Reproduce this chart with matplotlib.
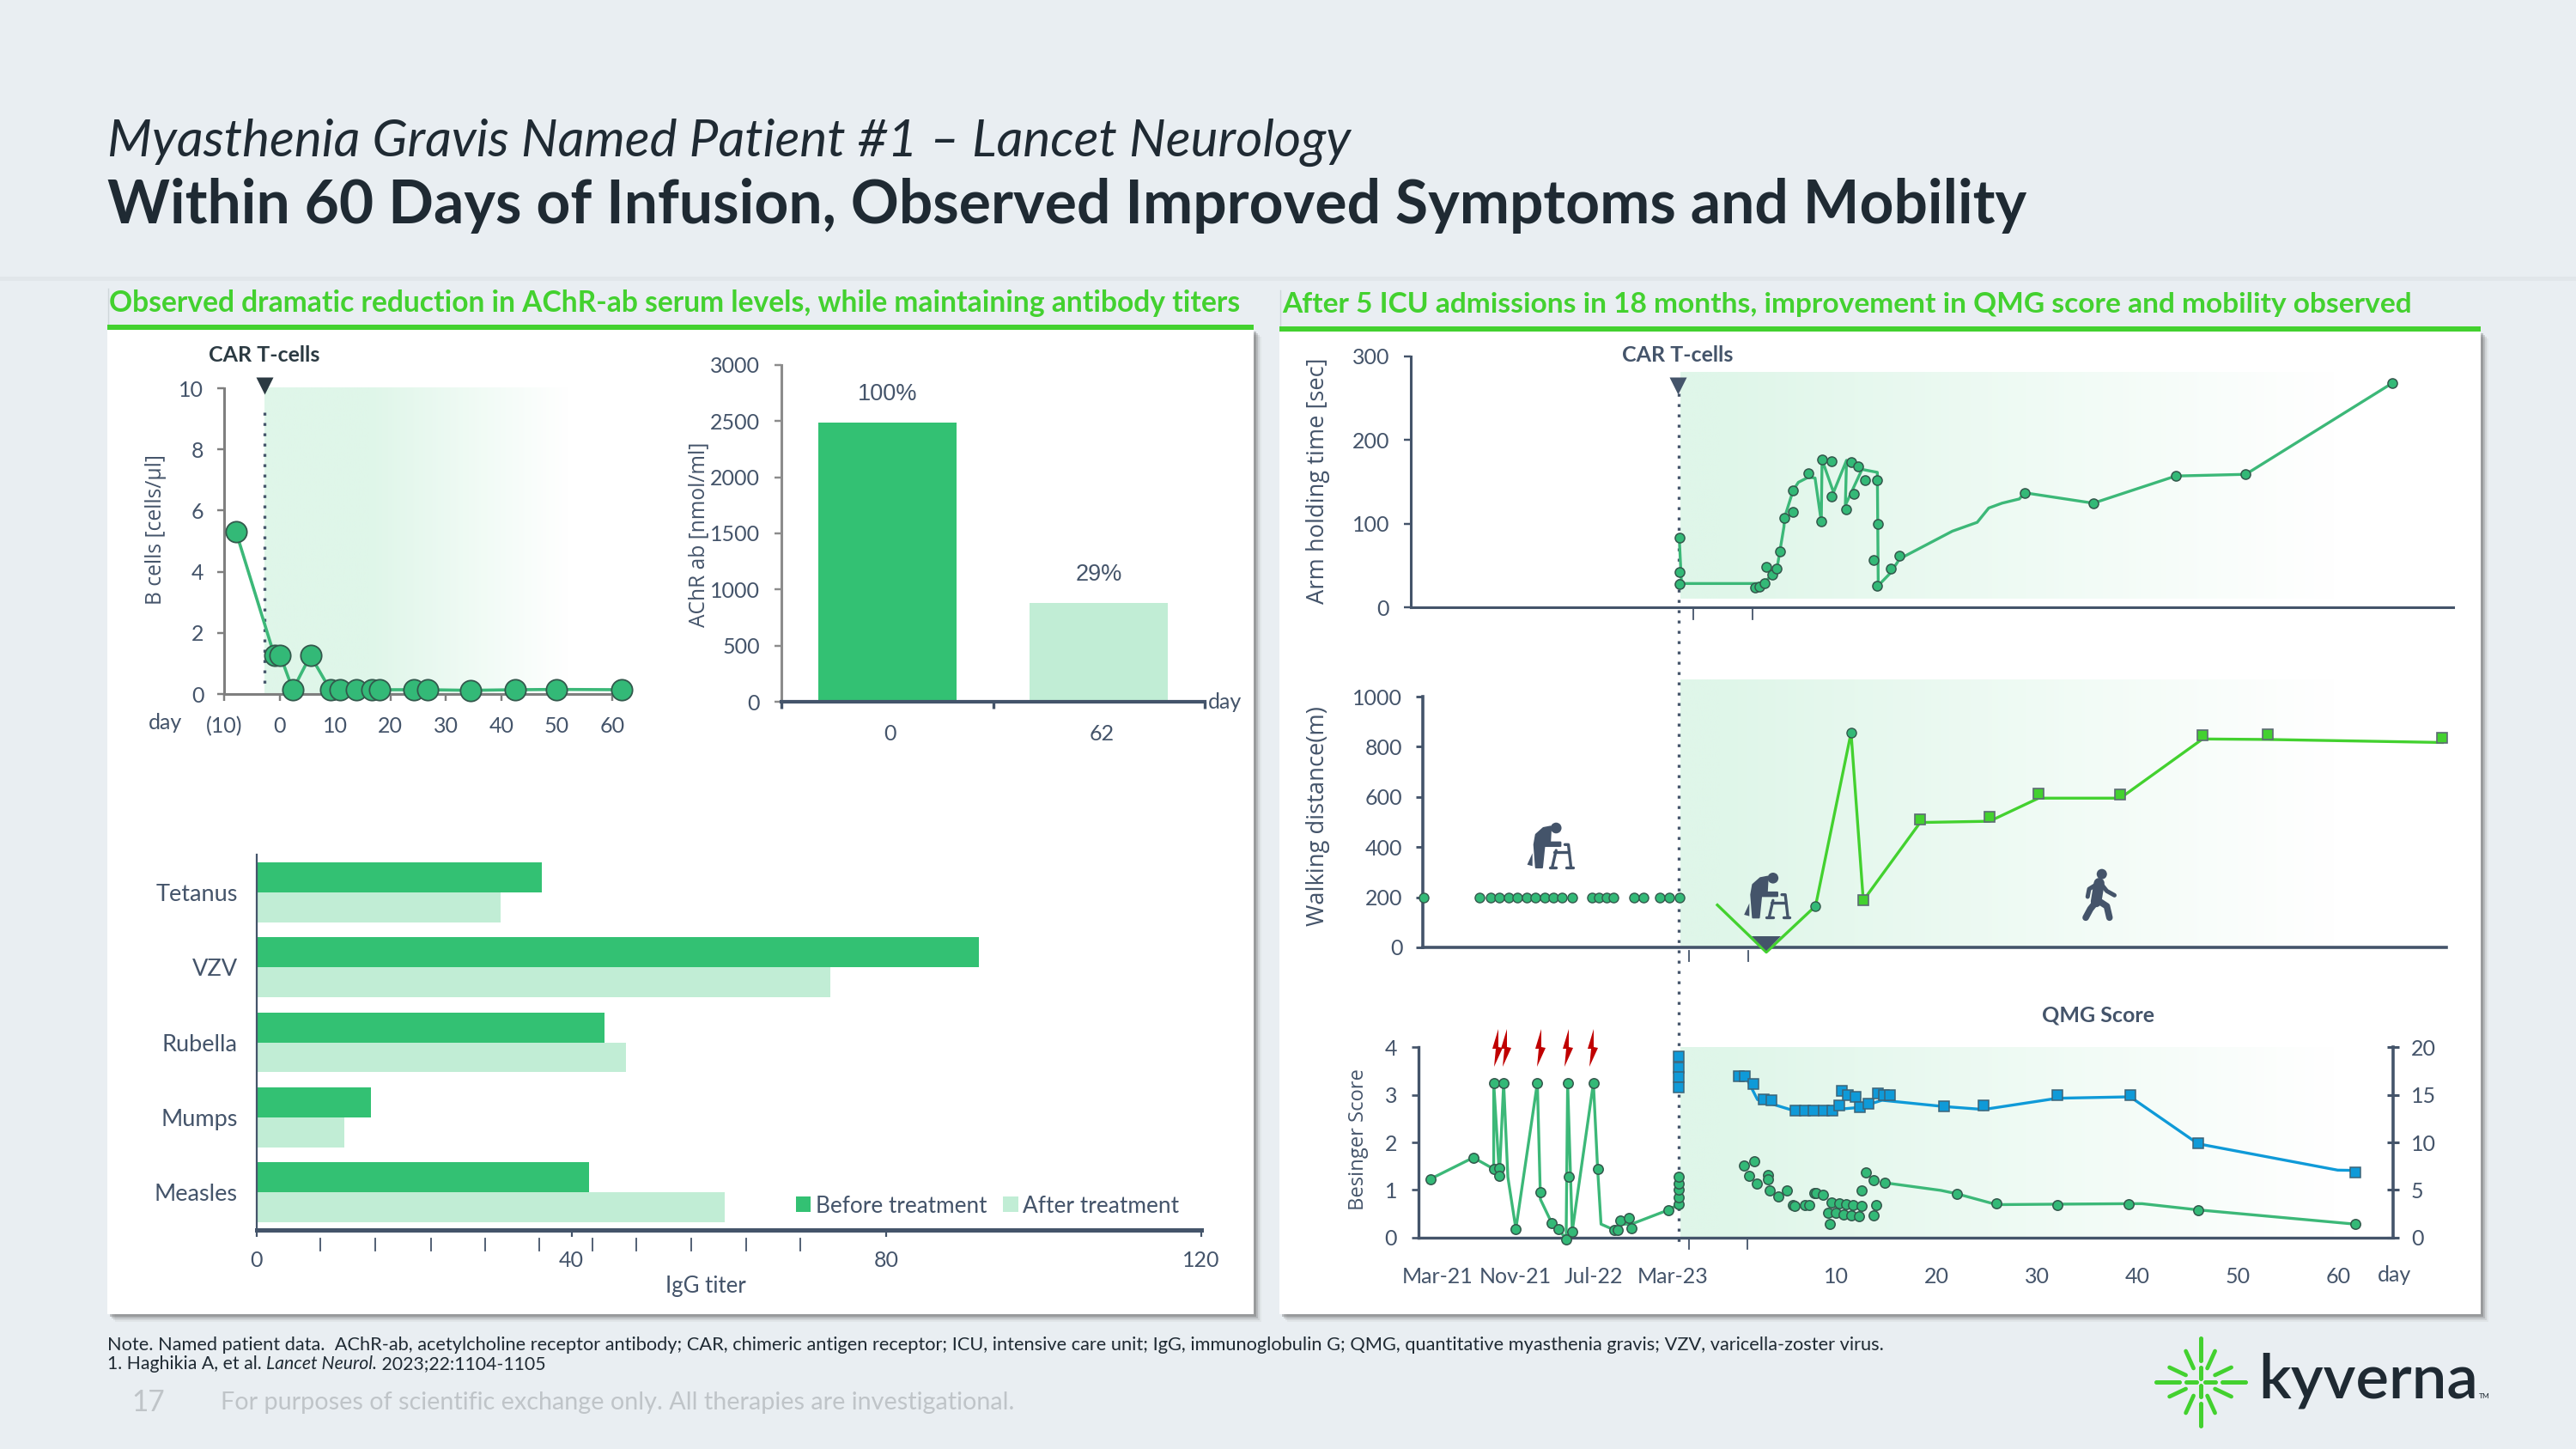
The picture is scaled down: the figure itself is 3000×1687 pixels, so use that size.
import numpy as np
import matplotlib
matplotlib.use('Agg')
import matplotlib.pyplot as plt
from matplotlib.colors import LinearSegmentedColormap
from matplotlib.patches import Rectangle, Polygon, Circle
from matplotlib.transforms import blended_transform_factory

W, H = 3000, 1687
BG = '#e9eef2'
DARK = '#44546a'
INK = '#1f2a33'
BRIGHT = '#43d12f'
BAR = '#33c173'
BAR_LT = '#c1edd5'
MARK = '#33b977'
LINE = '#3cb878'
EDGE = '#33584c'
BLUE = '#0f9ad8'
SHADE = '#dff6e9'
RED = '#c00000'

plt.rcParams['font.family'] = 'Lato'

# B cells
b_day = [-7.85, -0.94, 0.13, 2.4, 5.57, 9.13, 10.9, 13.8, 16.6, 18, 24.2, 26.7, 34.4, 42.5, 50, 61.7]
b_val = [5.3, 1.26, 1.26, 0.14, 1.26, 0.14, 0.14, 0.14, 0.14, 0.14, 0.14, 0.14, 0.12, 0.14, 0.15, 0.14]
b_ticks = [-10, 0, 10, 20, 30, 40, 50, 60]
b_ticklabels = ['(10)', '0', '10', '20', '30', '40', '50', '60']

# AChR ab
achr_days = ['0', '62']
achr_val = [2487, 880]
achr_pct = ['100%', '29%']

# IgG titers
igg_names = ['Tetanus', 'VZV', 'Rubella', 'Mumps', 'Measles']
igg_before = [36.2, 91.7, 44.2, 14.5, 42.2]
igg_after = [31.0, 72.9, 46.9, 11.1, 59.5]
igg_minor = [8.05, 15.1, 22.1, 29.0, 35.9, 42.7, 48.2, 55.2, 62.2, 69.1]

# arm holding time
arm_line_day = [-5.68, -5.46, 1.88, 2.8, 4.06, 4.76, 4.81, 5.68, 6.2, 7.2, 7.86, 8.48, 8.56, 9.7, 11.0,
                10.88, 12.54, 14.07, 14.16, 15.38, 16.3, 21.55, 24.03, 25.18, 26.5, 28.24, 28.73,
                35.6, 43.83, 50.8, 65.4]
arm_line_val = [82.8, 28.4, 28.4, 29, 46, 96.4, 107, 140, 149.5, 155.6, 154.6, 102.6, 176.5, 137.5, 175.8,
                122, 164.9, 161.4, 26, 41, 58, 91, 101.6, 118.7, 124.5, 129.6, 137,
                124.5, 157, 159, 268]
arm_day = [-5.68, -5.68, -5.68, 1.88, 2.27, 2.8, 3.0, 3.6, 4.06, 4.33, 4.76, 5.64, 5.68, 7.2, 8.48, 8.56,
           9.48, 9.48, 11.0, 11.49, 11.75, 12.15, 12.85, 14.07, 14.16, 13.68, 14.03, 15.38, 16.3,
           28.73, 35.6, 43.83, 50.8, 65.4]
arm_val = [82.8, 42, 27.4, 24, 25, 29, 48, 39, 46, 67, 107, 114, 140, 160, 103, 176.5,
           174.5, 133, 117, 174, 135.5, 168, 152, 152, 100, 57, 26, 46, 62,
           137, 124.5, 157, 159, 268]

# walking distance
walk_pre_day = [-31.19, -25.6, -24.5, -23.63, -22.7, -21.84, -20.92, -20.0, -19.13, -18.2, -17.34, -16.38,
                -14.37, -13.67, -12.97, -12.23, -10.18, -9.22, -7.6, -6.64, -5.63]
walk_pre_val = [199] * 21
walk_line_day = [-1.88, 3.0, 7.91, 11.45, 12.67, 18.34, 25.26, 30.15, 38.29, 46.5, 53.0, 70.4]
walk_line_val = [169, -19, 165, 856, 187, 498, 503, 595, 595, 831, 829, 817]
walk_circ_day = [7.91, 11.45]
walk_circ_val = [165, 856]
walk_sq_day = [12.67, 18.34, 25.26, 30.15, 38.29, 46.5, 53.0, 70.4]
walk_sq_val = [187, 510, 519, 614, 611, 847, 849, 834]

# Besinger score
bes_line_day = [-30.49, -26.21, -24.18, -24.18, -23.61, -23.19, -22.77, -21.97, -19.83, -19.52, -18.41,
                -17.72, -16.96, -16.81, -16.35, -14.24, -13.82, -13.48, -12.18, -11.84, -11.57, -10.46,
                -6.75, -5.72]
bes_line_val = [1.23, 1.68, 1.44, 3.25, 1.3, 3.25, 1.27, 0.18, 3.25, 0.8, 0.31,
                0.18, -0.04, 3.25, 0.13, 3.25, 1.44, 0.28, 0.16, 0.16, 0.28, 0.28,
                0.58, 0.7]
bes_day = [-30.49, -26.21, -24.18, -24.18, -23.65, -23.61, -23.19, -21.97, -19.83, -19.52, -18.41, -17.72,
           -16.96, -16.81, -16.73, -16.35, -14.24, -13.82, -12.18, -11.84, -11.57, -10.73, -10.46, -6.75,
           -5.72, -5.72, -5.72, -5.72, -5.72,
           0.78, 1.81, 1.27, 2.04, 3.15, 3.19, 3.34, 4.22, 5.06, 5.63, 5.86, 6.82, 7.31, 7.77, 7.96, 8.65,
           9.49, 10.26, 10.98, 11.67, 12.48, 13.93, 9.19, 9.95, 10.72, 11.44, 12.25, 13.74, 9.3, 12.51,
           12.97, 13.7, 14.81, 21.97, 25.98, 32.0, 39.1, 46.05, 61.7]
bes_val = [1.23, 1.68, 3.25, 1.44, 1.45, 1.3, 3.25, 0.18, 3.25, 0.96, 0.31, 0.18,
           -0.04, 3.25, 1.28, 0.13, 3.25, 1.44, 0.16, 0.16, 0.35, 0.41, 0.19, 0.58,
           0.7, 0.85, 1.0, 1.13, 1.27,
           1.52, 1.61, 1.3, 1.13, 1.32, 1.23, 0.99, 0.86, 0.98, 0.68, 0.66, 0.69, 0.69, 0.94, 0.94, 0.89,
           0.73, 0.72, 0.7, 0.69, 0.66, 0.69, 0.52, 0.51, 0.48, 0.46, 0.45, 0.47, 0.28, 0.98,
           1.36, 1.2, 1.15, 0.92, 0.71, 0.68, 0.7, 0.57, 0.29]
bes_tail_day = [14.81, 20.4, 21.97, 25.98, 32.0, 39.1, 40.47, 46.05, 61.7]
bes_tail_val = [1.15, 0.99, 0.92, 0.69, 0.7, 0.71, 0.71, 0.58, 0.28]

# QMG score
qmg_day = [-5.72, -5.72, -5.72, -5.72, 0.28, 0.85, 1.7, 2.73, 3.53, 5.9, 6.82, 7.73, 8.73, 9.57, 10.3, 10.53,
           11.1, 11.86, 12.29, 13.2, 14.16, 14.73, 15.3, 20.71, 24.68, 32.02, 39.28, 46.05, 61.72]
qmg_val = [19, 17.9, 16.9, 15.8, 17, 17, 16.1, 14.5, 14.4, 13.3, 13.3, 13.3, 13.3, 13.3, 13.9, 15.45,
           15, 14.76, 13.7, 14.07, 15.15, 15, 14.94, 13.8, 13.9, 14.95, 14.95, 9.9, 6.8]
qmg_line_day = [1.24, 2.12, 5.36, 9.95, 12.25, 14.54, 20.71, 24.68, 32.02, 39.28, 46.05, 59.97, 61.72]
qmg_line_val = [16.3, 14.5, 13.46, 13.46, 13.67, 14.43, 13.77, 13.46, 14.64, 14.79, 9.85, 7.08, 7.05]

day_ticks = [-29.8, -22.0, -14.2, -6.3, 10, 20, 30, 40, 50, 60]
day_labels = ['Mar-21', 'Nov-21', 'Jul-22', 'Mar-23', '10', '20', '30', '40', '50', '60']
bolt_x = [1744, 1754, 1794, 1826, 1855]


fig = plt.figure(figsize=(W / 100, H / 100), dpi=100, facecolor=BG)
rend = fig.canvas.get_renderer()


def px_axes(x0, y0, x1, y1, z=2):
    a = fig.add_axes([x0 / W, 1 - y1 / H, (x1 - x0) / W, (y1 - y0) / H], zorder=z)
    a.patch.set_alpha(0)
    return a


def day_of(x):
    return (x - 2022) / 11.68


bg = fig.add_axes([0, 0, 1, 1], zorder=0)
top = fig.add_axes([0, 0, 1, 1], zorder=5)
for a in (bg, top):
    a.set_xlim(0, W)
    a.set_ylim(H, 0)
    a.axis('off')
    a.patch.set_alpha(0)


def text(x, y, s, size, color=DARK, ha='center', va='center', width=None, ax=top, **kw):
    t = ax.text(x, y, s, fontsize=size, color=color, ha=ha, va=va, **kw)
    if width is not None:
        ext = t.get_window_extent(rend)
        now = max(ext.width, ext.height)
        t.set_fontsize(size * width / now)
    return t


def panel(x0, y0, x1, y1):
    for off, al in ((9, 0.06), (7, 0.12), (5, 0.2), (3, 0.3)):
        bg.add_patch(Rectangle((x0 + off, y0 + off), x1 - x0, y1 - y0, fc='#555555', ec='none', alpha=al))
    bg.add_patch(Rectangle((x0, y0), x1 - x0, y1 - y0, fc='white', ec='none'))


cmap = LinearSegmentedColormap.from_list('fade', [SHADE, 'white'])


def shade(x0, y0, x1, y1, flat):
    n = 256
    xs = np.linspace(x0, x1, n)
    g = np.clip((xs - flat) / (x1 - flat), 0, 1)
    bg.imshow(g[None, :], extent=(x0, x1, y1, y0), cmap=cmap, vmin=0, vmax=1, aspect='auto', zorder=1)
    bg.set_xlim(0, W)
    bg.set_ylim(H, 0)


# header band and panels
bg.add_patch(Rectangle((0, 322), W, 5, fc='#dfe4e8', ec='none', alpha=0.7))
panel(125, 383, 1460, 1530)
panel(1490, 385, 2889, 1530)
bg.add_patch(Rectangle((125, 378), 1335, 6, fc=BRIGHT, ec='none', zorder=3))
bg.add_patch(Rectangle((1490, 380), 1399, 6, fc=BRIGHT, ec='none', zorder=3))
bg.plot([126, 126], [336, 378], color='#cfd6da', lw=1)
bg.plot([1491, 1491], [338, 380], color='#cfd6da', lw=1)

shade(308, 451, 662, 808, 430)
shade(1957, 433, 2720, 697, 2000)
shade(1957, 791, 2720, 1103, 2000)
shade(1957, 1219, 2720, 1440, 2000)

text(125, 166, 'Myasthenia Gravis Named Patient #1 – Lancet Neurology', 40, color=INK, ha='left',
     style='italic', width=1447, ax=bg)
text(125, 239, 'Within 60 Days of Infusion, Observed Improved Symptoms and Mobility', 48, color=INK, ha='left',
     weight='bold', width=2235, ax=bg)
text(127, 353, 'Observed dramatic reduction in AChR-ab serum levels, while maintaining antibody titers', 24,
     color=BRIGHT, ha='left', weight='bold', width=1319, ax=bg)
text(1493, 354, 'After 5 ICU admissions in 18 months, improvement in QMG score and mobility observed', 24,
     color=BRIGHT, ha='left', weight='bold', width=1315, ax=bg)


def style_axis(a, color=DARK, lw=2.0):
    for s in ('top', 'right'):
        a.spines[s].set_visible(False)
    for s in ('left', 'bottom'):
        a.spines[s].set_color(color)
        a.spines[s].set_linewidth(lw)
    a.tick_params(colors=color, labelcolor=DARK, labelsize=18, width=lw * 0.8, length=6)


# B cells panel
ax = px_axes(261, 452, 713, 808)
style_axis(ax, '#7f7f7f', 2.2)
ax.plot(b_day, b_val, color=LINE, lw=2.6, marker='o', ms=17.5, mfc=MARK, mec=EDGE, mew=1.3, clip_on=False, zorder=4)
ax.set_xlim(-10, 60)
ax.set_ylim(0, 10)
ax.set_xticks(b_ticks, b_ticklabels)
ax.set_yticks([0, 2, 4, 6, 8, 10])
ax.tick_params(axis='y', pad=11)
ax.tick_params(axis='x', pad=13)
text(192, 841, 'day', 18)
text(181, 617, 'B cells [cells/µl]', 16, family='Open Sans', rotation=90, width=175)
text(308, 413, 'CAR T-cells', 18, color='#2b3a42', weight='bold')
top.plot([308], [449], marker='v', ms=14, color='#2b3a42', mec='none')
bg.plot([308, 308], [480, 803], color=DARK, lw=2.4, ls=(0, (1, 2.6)), zorder=4)

# AChR bars
ax = px_axes(910, 425, 1403, 817)
style_axis(ax, '#8c8c8c', 2.2)
ax.spines['bottom'].set_color(DARK)
ax.spines['bottom'].set_linewidth(3)
ax.bar([0, 1], achr_val, width=0.652, color=[BAR, BAR_LT])
ax.set_xlim(-0.5, 1.5)
ax.set_ylim(0, 3000)
ax.set_yticks([0, 500, 1000, 1500, 2000, 2500, 3000])
ax.set_xticks([-0.5, 0.5, 1.5], ['', '', ''])
ax.tick_params(axis='x', color=DARK, width=2.4, length=6)
ax.tick_params(axis='y', pad=12)
for i in range(2):
    ax.annotate(achr_pct[i], (i, achr_val[i]), xytext=(0, 33), textcoords='offset pixels',
                ha='center', va='center', fontsize=19.5, family='Liberation Sans', color=DARK)
    ax.annotate(achr_days[i], (i, 0), xytext=(3, -37), textcoords='offset pixels',
                ha='center', va='center', fontsize=18, color=DARK)
text(1427, 817, 'day', 18)
text(814, 622, 'AChR ab [nmol/ml]', 16, family='Open Sans', rotation=90, width=215)

# IgG bars
ax = px_axes(299, 995, 1399, 1432)
style_axis(ax, DARK, 1.6)
ax.spines['bottom'].set_linewidth(3.6)
y_pos = np.arange(len(igg_names))
ax.barh(y_pos - 0.2, igg_before, height=0.4, color=BAR)
ax.barh(y_pos + 0.2, igg_after, height=0.4, color=BAR_LT)
ax.set_xlim(0, 120)
ax.set_ylim(4.5, -0.5)
ax.set_xticks([0, 40, 80, 120])
ax.set_yticks(y_pos, igg_names)
ax.tick_params(axis='y', length=0, pad=16, labelsize=19.5)
ax.tick_params(axis='x', length=6, width=1.6, pad=11)
tr = blended_transform_factory(ax.transData, top.transData)
for d in igg_minor:
    top.plot([d, d], [1442, 1456], transform=tr, color=DARK, lw=1.3)
text(822, 1497, 'IgG titer', 18.5)
top.add_patch(Rectangle((927, 1393), 17, 18, fc=BAR, ec='none'))
top.add_patch(Rectangle((1168, 1393), 18, 18, fc=BAR_LT, ec='none'))
text(950, 1404, 'Before treatment', 18, ha='left', width=199)
text(1191, 1404, 'After treatment', 18, ha='left', width=181)

# arm holding time
ax = px_axes(1643, 415, 2857, 707)
style_axis(ax, DARK, 2.2)
ax.plot(arm_line_day, arm_line_val, color=LINE, lw=2.4, zorder=3)
ax.plot(arm_day, arm_val, ls='', marker='o', ms=8, mfc=MARK, mec=EDGE, mew=1.1, zorder=4)
ax.set_xlim(day_of(1643), day_of(2857))
ax.set_ylim(0, 300)
ax.set_yticks([0, 100, 200, 300])
ax.set_xticks([])
ax.tick_params(axis='y', pad=12)
tr = blended_transform_factory(ax.transData, top.transData)
for d in (day_of(1972), day_of(2041)):
    top.plot([d, d], [709, 721], transform=tr, color=DARK, lw=1.3)
text(1535, 560, 'Arm holding time [sec]', 17, family='Open Sans', rotation=90, width=286)
text(1954, 413, 'CAR T-cells', 18, weight='bold')
top.plot([1954], [449], marker='v', ms=14, color=DARK, mec='none')

# walking distance
ax = px_axes(1657, 811, 2849, 1103)
style_axis(ax, DARK, 2.6)
ax.plot(walk_line_day, walk_line_val, color=BRIGHT, lw=2.4, zorder=3, clip_on=False)
ax.plot(walk_pre_day, walk_pre_val, ls='', marker='o', ms=8, mfc=MARK, mec=EDGE, mew=1.0, clip_on=False, zorder=4)
ax.plot(walk_circ_day, walk_circ_val, ls='', marker='o', ms=8, mfc=MARK, mec=EDGE, mew=1.0, zorder=4)
ax.plot(walk_sq_day, walk_sq_val, ls='', marker='s', ms=8.5, mfc=BRIGHT, mec='#5d6b74', mew=1.2, zorder=4, clip_on=False)
ax.set_xlim(day_of(1657), day_of(2849))
ax.set_ylim(0, 1000)
ax.set_yticks([0, 200, 400, 600, 800, 1000])
ax.set_xticks([])
ax.tick_params(axis='y', pad=11)
tr = blended_transform_factory(ax.transData, top.transData)
for d in (day_of(1967), day_of(2036)):
    top.plot([d, d], [1107, 1119], transform=tr, color=DARK, lw=1.3)
text(1535, 950, 'Walking distance(m)', 17, family='Open Sans', rotation=90, width=256)
top.add_patch(Polygon([(2040, 1090), (2074, 1090), (2057, 1107)], fc=DARK, ec='none'))

# Besinger / QMG
ax = px_axes(1652, 1219.3, 2787, 1440.7)
style_axis(ax, DARK, 2.4)
ax.plot(bes_line_day, bes_line_val, color=LINE, lw=2.4, zorder=3, clip_on=False)
ax.plot(bes_tail_day, bes_tail_val, color=LINE, lw=2.4, zorder=3)
ax.plot(bes_day, bes_val, ls='', marker='o', ms=8.2, mfc=MARK, mec=EDGE, mew=1.1, zorder=4, clip_on=False)
ax.set_xlim(day_of(1652), day_of(2787))
ax.set_ylim(0, 4)
ax.set_yticks([0, 1, 2, 3, 4])
ax.set_xticks(day_ticks, day_labels)
ax.tick_params(axis='x', length=0, pad=25)
ax.tick_params(axis='y', pad=12)
tr = blended_transform_factory(ax.transData, top.transData)
for d in (day_of(1967), day_of(2035)):
    top.plot([d, d], [1442, 1454], transform=tr, color=DARK, lw=1.3)
ax2 = ax.twinx()
ax2.patch.set_alpha(0)
ax2.set_zorder(3)
for s in ('top', 'left', 'bottom'):
    ax2.spines[s].set_visible(False)
ax2.spines['right'].set_color(DARK)
ax2.spines['right'].set_linewidth(2.6)
ax2.plot(qmg_line_day, qmg_line_val, color=BLUE, lw=2.4, zorder=3)
ax2.plot(qmg_day, qmg_val, ls='', marker='s', ms=8.8, mfc=BLUE, mec='#3c6478', mew=1.1, zorder=4)
ax2.set_ylim(0, 20)
ax2.set_yticks([0, 5, 10, 15, 20])
ax2.tick_params(axis='y', colors=DARK, labelcolor=DARK, labelsize=18, direction='inout', width=2.2, length=10, pad=10)
text(2788, 1484, 'day', 18)
text(1582, 1327, 'Besinger Score', 16, family='Open Sans', rotation=90, width=165)
text(2443, 1182, 'QMG Score', 18, weight='bold')

# infusion marker
bg.plot([1955, 1955], [458, 1447], color=DARK, lw=2.4, ls=(0, (1, 2.6)), zorder=4)

# relapses
for c in bolt_x:
    top.add_patch(Polygon([(c + 1, 1198), (c - 6, 1221), (c - 2, 1221), (c - 4, 1242), (c + 6, 1220), (c + 1, 1219)],
                          fc=RED, ec='none'))


# walker icon
def walker(dx, dy):
    def p(zx, zy):
        return 1500 + zx / 1.96 + dx, 780 + zy / 3 + dy
    top.add_patch(Circle(p(612, 552), 6.3, fc=DARK, ec='none'))
    body = [(562, 610), (566, 575), (583, 552), (600, 547), (598, 602), (622, 602), (622, 615), (585, 615),
            (580, 690), (566, 690)]
    top.add_patch(Polygon([p(*b) for b in body], fc=DARK, ec=DARK, lw=1.5, joinstyle='round'))
    top.add_patch(Polygon([p(558, 640), p(558, 685), p(546, 680)], fc=DARK, ec='none'))
    for seg in ([(632, 610), (640, 610), (646, 690)], [(612, 630), (603, 690)], [(608, 637), (640, 637)],
                [(597, 690), (612, 690)], [(635, 690), (650, 690)]):
        pts = [p(*s) for s in seg]
        top.plot([q[0] for q in pts], [q[1] for q in pts], color=DARK, lw=2.4, solid_capstyle='round')


walker(0, 0)
walker(252.6, 58.3)


# walking man icon
def man(zx, zy):
    return 2200 + zx / 2.24, 780 + zy / 3


top.add_patch(Circle(man(555, 713), 6, fc=DARK, ec='none'))
for seg, w in (([(548, 745), (540, 810)], 9), ([(540, 810), (525, 835), (513, 865)], 5.5),
               ([(545, 805), (568, 825), (575, 865)], 5.5), ([(546, 745), (522, 765), (518, 792)], 3.6),
               ([(552, 745), (568, 772), (588, 787)], 3.6)):
    pts = [man(*s) for s in seg]
    top.plot([q[0] for q in pts], [q[1] for q in pts], color=DARK, lw=w, solid_capstyle='round', solid_joinstyle='round')

# footnotes
text(125, 1566, 'Note. Named patient data.  AChR-ab, acetylcholine receptor antibody; CAR, chimeric antigen receptor; '
     'ICU, intensive care unit; IgG, immunoglobulin G; QMG, quantitative myasthenia gravis; VZV, varicella-zoster virus.',
     14, color=INK, ha='left', width=2070)
x = 125
for s, st in (('1. Haghikia A, et al. ', 'normal'), ('Lancet Neurol.', 'italic'), (' 2023;22:1104-1105', 'normal')):
    t = text(x, 1588, s, 15.3, color=INK, ha='left', style=st)
    x = t.get_window_extent(rend).x1
text(153, 1633, '17', 24, color='#bfc4c8', ha='left', width=39)
text(257, 1633, 'For purposes of scientific exchange only. All therapies are investigational.', 20, color='#bfc4c8',
     ha='left', width=926)

# logo
lc, ly = 2562.6, 1609
for (a, b, c, d) in ((0, -51, 0, -25), (0, -17, 0, -4), (-17, -36, -8, -16), (-36, -17, -17, -8),
                     (-52, 0, -25, 0), (-17, 0, -5, 0)):
    for sx, sy in ((1, 1), (-1, 1), (1, -1), (-1, -1)):
        top.plot([lc + sx * a, lc + sx * c], [ly + sy * b, ly + sy * d], color=BRIGHT, lw=3.4, solid_capstyle='round')
text(2630, 1627, 'kyverna', 50, color=INK, ha='left', va='baseline', width=256, weight=600)
text(2887, 1625, 'TM', 6, color=INK, ha='left', va='center')

fig.savefig('out.png', dpi=100, facecolor=BG)
